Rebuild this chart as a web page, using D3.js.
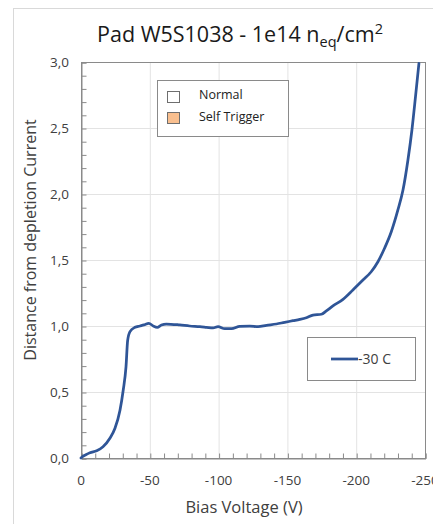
<!DOCTYPE html>
<html>
<head>
<meta charset="utf-8">
<script src="https://cdn.jsdelivr.net/npm/d3@7"></script>
<style>
  html, body { margin: 0; padding: 0; background: #fff; }
  svg { display: block; font-family: "Open Sans", "Liberation Sans", sans-serif; }
</style>
</head>
<body>
<svg id="chart" width="433" height="524"></svg>
<script>
// Bias voltage (V) and distance from depletion current, -30 C run
const biasVoltage = [0, -1, -3.5, -6.5, -11.4, -16, -21, -24.7, -28.3, -30.7, -32.7, -33.9, -35.6, -39.2, -42.8,
  -45.7, -49.3, -52.5, -55.4, -58.5, -62, -71.8, -79, -86.4, -91.2, -96, -99.6, -104.5, -109.4, -115.4,
  -122.6, -128.7, -134.8, -142, -148, -154, -159, -163.8, -168.6, -174.7, -178.3, -183.1, -190.4, -197.6,
  -204.9, -210.9, -215.8, -220.6, -225.5, -230.3, -234, -237.6, -240.5, -243.1, -245.6];
const distance = [0, 0.01, 0.025, 0.04, 0.055, 0.085, 0.15, 0.225, 0.36, 0.515, 0.69, 0.89, 0.957, 0.99, 1.0,
  1.008, 1.02, 1.0, 0.99, 1.008, 1.015, 1.008, 1.0, 0.995, 0.99, 0.985, 0.995, 0.98, 0.98, 0.998,
  1.0, 0.995, 1.005, 1.015, 1.028, 1.04, 1.05, 1.063, 1.083, 1.089, 1.114, 1.152, 1.202, 1.273,
  1.348, 1.411, 1.487, 1.589, 1.714, 1.879, 2.03, 2.258, 2.485, 2.737, 2.99];

const xTicks = [0, -50, -100, -150, -200, -250];
const yTicks = [0, 0.5, 1.0, 1.5, 2.0, 2.5, 3.0];
const seriesName = "-30 C";
const legendItems = ["Normal", "Self Trigger"];
const legendFills = ["#ffffff", "#f9bf8f"];

const svg = d3.select("#chart");
const plotL = 81, plotR = 425, plotT = 62, plotB = 458;

const x = d3.scaleLinear().domain([0, -250]).range([plotL, plotR]);
const y = d3.scaleLinear().domain([0, 3]).range([plotB, plotT]);
const fmt = v => d3.format(".1f")(v).replace(".", ",");

// chart area outline
svg.append("rect").attr("x", 13.5).attr("y", 8.5).attr("width", 600).attr("height", 600)
  .attr("fill", "none").attr("stroke", "#d9d9d9");

// title
const title = svg.append("text").attr("x", 240).attr("y", 42).attr("text-anchor", "middle")
  .attr("font-size", 21.5).attr("fill", "#1a1a1a");
title.append("tspan").text("Pad W5S1038 - 1e14 n");
title.append("tspan").attr("font-size", 14.5).attr("dy", 5).text("eq");
title.append("tspan").attr("dy", -5).text("/cm");
title.append("tspan").attr("font-size", 14.5).attr("dy", -8).text("2");

// gridlines
svg.append("g").selectAll("line").data(yTicks.slice(1, -1)).join("line")
  .attr("x1", plotL).attr("x2", plotR).attr("y1", d => y(d) + 0.5).attr("y2", d => y(d) + 0.5)
  .attr("stroke", "#e3e3e3");
svg.append("g").selectAll("line").data(xTicks.slice(1, -1)).join("line")
  .attr("y1", plotT).attr("y2", plotB).attr("x1", d => x(d) + 0.5).attr("x2", d => x(d) + 0.5)
  .attr("stroke", "#e3e3e3");

// plot frame
svg.append("rect").attr("x", plotL + 0.5).attr("y", plotT + 0.5)
  .attr("width", plotR - plotL).attr("height", plotB - plotT)
  .attr("fill", "none").attr("stroke", "#8a8a8a");

// x axis with inward minor ticks every 10 V
const xAxis = d3.axisBottom(x).tickValues(d3.range(0, -251, -10)).tickSize(-5).tickFormat("");
svg.append("g").attr("transform", `translate(0.5,${plotB + 0.5})`).call(xAxis)
  .call(g => g.select(".domain").attr("stroke", "#8a8a8a"))
  .call(g => g.selectAll(".tick line").attr("stroke", "#8a8a8a"));
svg.append("g").selectAll("text").data(xTicks).join("text")
  .attr("x", d => x(d)).attr("y", 485).attr("text-anchor", "middle")
  .attr("font-size", 13.5).attr("fill", "#404040").text(d => d);

// y axis with inward minor ticks every 0.1
const yAxis = d3.axisLeft(y).tickValues(d3.range(0, 3.001, 0.1)).tickSize(-5).tickFormat("");
svg.append("g").attr("transform", `translate(${plotL + 0.5},0.5)`).call(yAxis)
  .call(g => g.select(".domain").attr("stroke", "#8a8a8a"))
  .call(g => g.selectAll(".tick line").attr("stroke", "#8a8a8a"));
svg.append("g").selectAll("text").data(yTicks).join("text")
  .attr("x", 69).attr("y", d => y(d) + 4.5).attr("text-anchor", "end")
  .attr("font-size", 13.5).attr("fill", "#404040").text(d => fmt(d));

// axis titles
svg.append("text").attr("x", 244).attr("y", 513).attr("text-anchor", "middle")
  .attr("font-size", 16.5).attr("fill", "#404040").text("Bias Voltage (V)");
svg.append("text").attr("transform", `translate(36,240) rotate(-90)`)
  .attr("text-anchor", "middle").attr("font-size", 16).attr("fill", "#404040")
  .text("Distance from depletion Current");

// data line
const line = d3.line().x((d, i) => x(biasVoltage[i])).y(d => y(d)).curve(d3.curveMonotoneX);
svg.append("path").datum(distance).attr("d", line)
  .attr("fill", "none").attr("stroke", "#2f5597").attr("stroke-width", 2.75)
  .attr("stroke-linejoin", "round").attr("stroke-linecap", "round");

// legend: measurement mode
const lg = svg.append("g");
lg.append("rect").attr("x", 157.5).attr("y", 80.5).attr("width", 131).attr("height", 56)
  .attr("fill", "#fff").attr("stroke", "#8a8a8a");
legendItems.forEach((name, i) => {
  lg.append("rect").attr("x", 167.5).attr("y", 91.5 + i * 21).attr("width", 12).attr("height", 11)
    .attr("fill", legendFills[i]).attr("stroke", "#6e6e6e");
  lg.append("text").attr("x", 199).attr("y", 99 + i * 22).attr("font-size", 12.5)
    .attr("fill", "#222").text(name);
});

// legend: series
const ls = svg.append("g");
ls.append("rect").attr("x", 307.5).attr("y", 337.5).attr("width", 108).attr("height", 43)
  .attr("fill", "#fff").attr("stroke", "#8a8a8a");
ls.append("line").attr("x1", 331).attr("x2", 358).attr("y1", 359).attr("y2", 359)
  .attr("stroke", "#2f5597").attr("stroke-width", 2.75);
ls.append("text").attr("x", 358).attr("y", 364).attr("font-size", 14).attr("fill", "#404040")
  .text(seriesName);
</script>
</body>
</html>
